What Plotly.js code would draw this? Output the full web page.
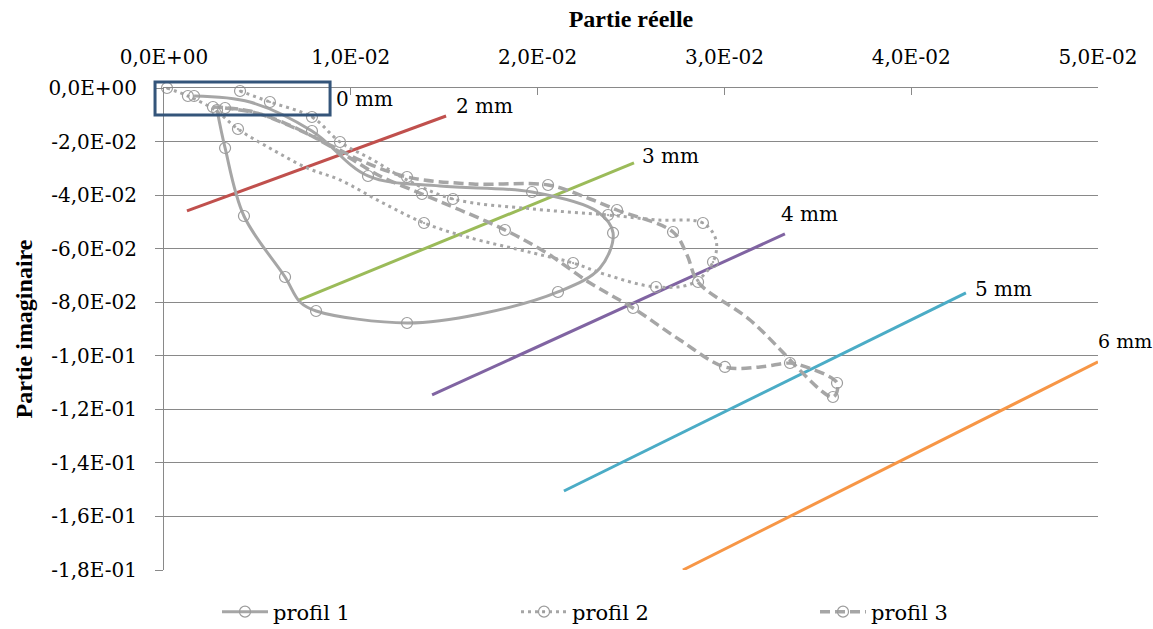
<!DOCTYPE html>
<html>
<head>
<meta charset="utf-8">
<script src="https://cdn.plot.ly/plotly-3.0.1.min.js"></script>
<style>
  html, body { margin: 0; padding: 0; background: #fff; }
  #chart { width: 1153px; height: 629px; }
</style>
</head>
<body>
<div id="chart"></div>
<script>
// ---------------- DATA ----------------
const xTickVals = [0, 0.01, 0.02, 0.03, 0.04, 0.05];
const xTickText = ['0,0E+00', '1,0E-02', '2,0E-02', '3,0E-02', '4,0E-02', '5,0E-02'];
const yTickVals = [0, -0.02, -0.04, -0.06, -0.08, -0.10, -0.12, -0.14, -0.16, -0.18];
const yTickText = ['0,0E+00', '-2,0E-02', '-4,0E-02', '-6,0E-02', '-8,0E-02',
                   '-1,0E-01', '-1,2E-01', '-1,4E-01', '-1,6E-01', '-1,8E-01'];

const seriesNames = ['profil 1', 'profil 2', 'profil 3'];

// profil 1 (solid)
const p1X = [0.00161, 0.00460, 0.00792, 0.01092, 0.01478, 0.01970, 0.02323, 0.02404, 0.02334,
             0.02109, 0.01692, 0.01301, 0.00814, 0.00728, 0.00648, 0.00428, 0.00327, 0.00284];
const p1Y = [-0.00299, -0.00523, -0.01606, -0.03286, -0.03660, -0.03884, -0.04630, -0.05414, -0.06721,
             -0.07618, -0.08439, -0.08775, -0.08327, -0.07991, -0.07058, -0.04780, -0.02240, -0.00822];
const p1Marked = [1, 0, 1, 1, 0, 1, 0, 1, 0, 1, 0, 1, 1, 0, 1, 1, 1, 1];

// profil 2 (dotted)
const p2X = [0.00016, 0.00128, 0.00273, 0.00396, 0.00584, 0.00766, 0.00942, 0.01172, 0.01392, 0.01622,
             0.01975, 0.02190, 0.02372, 0.02634, 0.02832, 0.02939, 0.02955, 0.02885, 0.02639, 0.02377,
             0.01975, 0.01547, 0.01301, 0.01119, 0.00942, 0.00792, 0.00567, 0.00407];
const p2Y = [0.0000, -0.00299, -0.00822, -0.01531, -0.02315, -0.02987, -0.03435, -0.04294, -0.05041, -0.05564,
             -0.06161, -0.06535, -0.06983, -0.07431, -0.07282, -0.06497, -0.05676, -0.05041, -0.04929, -0.04742,
             -0.04518, -0.04145, -0.03435, -0.02689, -0.02016, -0.01083, -0.00523, -0.00112];
const p2Marked = [1, 1, 0, 1, 0, 0, 0, 0, 1, 0, 0, 1, 0, 1, 0, 1, 0, 1, 0, 1, 0, 1, 0, 0, 1, 1, 1, 1];

// profil 3 (dashed)
const p3X = [0.00262, 0.00460, 0.00675, 0.00889, 0.01049, 0.01301, 0.01654, 0.02056, 0.02281, 0.02425,
             0.02725, 0.02800, 0.02859, 0.03137, 0.03581, 0.03603, 0.03405, 0.03351, 0.03191, 0.03003,
             0.02762, 0.02511, 0.02281, 0.02040, 0.01825, 0.01585, 0.01381, 0.01156, 0.00969, 0.00728,
             0.00514, 0.00327];
const p3Y = [-0.00709, -0.00859, -0.01419, -0.02128, -0.02689, -0.03323, -0.03585, -0.03622, -0.04145, -0.04556,
             -0.05377, -0.06236, -0.07244, -0.08663, -0.11539, -0.11016, -0.10344, -0.10269, -0.10418, -0.10418,
             -0.09410, -0.08215, -0.07282, -0.06124, -0.05302, -0.04556, -0.03958, -0.03286, -0.02502, -0.01568,
             -0.00971, -0.00747];
const p3Marked = [1, 0, 0, 0, 0, 1, 0, 1, 0, 1, 1, 0, 1, 0, 1, 1, 0, 1, 0, 1, 0, 1, 0, 0, 1, 0, 1, 0, 0, 0, 0, 1];

// depth lines
const mmLabels = ['2 mm', '3 mm', '4 mm', '5 mm', '6 mm'];
const mmX0 = [0.00123, 0.00723, 0.01435, 0.02141, 0.02778];
const mmY0 = [-0.0459, -0.0792, -0.1146, -0.1505, -0.1800];
const mmX1 = [0.0151, 0.02516, 0.03324, 0.04293, 0.0500];
const mmY1 = [-0.01046, -0.0280, -0.0545, -0.0765, -0.1023];

// 0 mm box
const box0Label = '0 mm';
const box0X = [-0.00048, 0.00889];
const box0Y = [0.0022, -0.0101];

// ---------------- STYLE ----------------
const xRange = [0, 0.05];
const yRange = [-0.18, 0];
const grey = '#a6a6a6';
const markerGrey = '#9c9c9c';
const gridGrey = '#898989';
const mmColors = ['#c0504d', '#9bbb59', '#8064a2', '#4bacc6', '#f79646'];
const mmLabelShift = [[8, 10], [6, 7], [-6, 20], [7, 4], [-2, 21]];
const mmLabelSize = [20, 20, 20, 20, 19];
const boxColor = '#34557a';
const tickFont = { family: 'DejaVu Serif', size: 20, color: '#000' };
const legendFont = { family: 'DejaVu Serif', size: 21, color: '#000' };
const titleFont = { family: 'Liberation Serif', size: 24, color: '#000' };

const profSpecs = [
  { x: p1X, y: p1Y, m: p1Marked, dash: 'solid', sym: 'circle-open', w: 3 },
  { x: p2X, y: p2Y, m: p2Marked, dash: '3px,4px', sym: 'circle-open-dot', w: 3 },
  { x: p3X, y: p3Y, m: p3Marked, dash: '10px,5px', sym: 'circle-open', w: 3.5 }
];

const traces = [];
mmLabels.forEach((lab, i) => {
  traces.push({
    type: 'scatter', mode: 'lines',
    x: [mmX0[i], mmX1[i]], y: [mmY0[i], mmY1[i]],
    line: { color: mmColors[i], width: 3 },
    showlegend: false, hoverinfo: 'skip', name: lab
  });
});

profSpecs.forEach((s, i) => {
  traces.push({
    type: 'scatter', mode: 'lines+markers', name: seriesNames[i],
    x: s.x, y: s.y,
    line: { color: grey, width: s.w, dash: s.dash, shape: 'spline', smoothing: 1 },
    marker: {
      symbol: s.sym, size: 11,
      color: s.m.map(v => v ? markerGrey : 'rgba(0,0,0,0)'),
      line: { width: 1.2 }
    },
    cliponaxis: false
  });
});

const toPX = v => (v - xRange[0]) / (xRange[1] - xRange[0]);
const toPY = v => (v - yRange[0]) / (yRange[1] - yRange[0]);

const shapes = [{
  type: 'rect', xref: 'paper', yref: 'paper',
  x0: toPX(box0X[0]), x1: toPX(box0X[1]), y0: toPY(box0Y[0]), y1: toPY(box0Y[1]),
  line: { color: boxColor, width: 3 }, fillcolor: 'rgba(0,0,0,0)', layer: 'above'
}];

const annotations = mmLabels.map((lab, i) => ({
  x: mmX1[i], y: mmY1[i], xref: 'x', yref: 'y', text: lab, showarrow: false,
  xanchor: 'left', yanchor: 'middle',
  xshift: mmLabelShift[i][0], yshift: mmLabelShift[i][1],
  font: Object.assign({}, tickFont, { size: mmLabelSize[i] })
}));
annotations.push({
  x: box0X[1], y: (box0Y[0] + box0Y[1]) / 2, xref: 'x', yref: 'y', text: box0Label,
  showarrow: false, xanchor: 'left', yanchor: 'middle', xshift: 4, yshift: 0, font: tickFont
});

const layout = {
  width: 1153, height: 629,
  margin: { l: 164, r: 55, t: 88, b: 59, autoexpand: false },
  paper_bgcolor: '#fff', plot_bgcolor: '#fff',
  showlegend: true,
  legend: {
    orientation: 'h', xref: 'container', yref: 'container',
    x: 217 / 1153, xanchor: 'left', y: 1 - 612 / 629, yanchor: 'middle',
    entrywidth: 238, entrywidthmode: 'pixels', itemwidth: 46,
    font: legendFont, tracegroupgap: 0
  },
  xaxis: {
    range: xRange, side: 'top', tickvals: xTickVals, ticktext: xTickText,
    ticks: 'inside', ticklen: 7, tickcolor: gridGrey, tickwidth: 1,
    showline: true, linecolor: gridGrey, linewidth: 1,
    showgrid: false, zeroline: false, tickfont: tickFont,
    ticklabelstandoff: 15,
    title: { text: '<b>Partie réelle</b>', font: titleFont, standoff: 10 }
  },
  yaxis: {
    range: yRange, tickvals: yTickVals, ticktext: yTickText,
    ticks: 'outside', ticklen: 8, tickcolor: gridGrey, tickwidth: 1,
    showline: true, linecolor: gridGrey, linewidth: 1,
    showgrid: true, gridcolor: gridGrey, gridwidth: 1,
    zeroline: false, tickfont: tickFont,
    ticklabelstandoff: 14,
    title: { text: '<b>Partie imaginaire</b>', font: titleFont, standoff: 8 }
  },
  shapes: shapes,
  annotations: annotations
};

Plotly.newPlot('chart', traces, layout, { displayModeBar: false, staticPlot: true });
</script>
</body>
</html>
